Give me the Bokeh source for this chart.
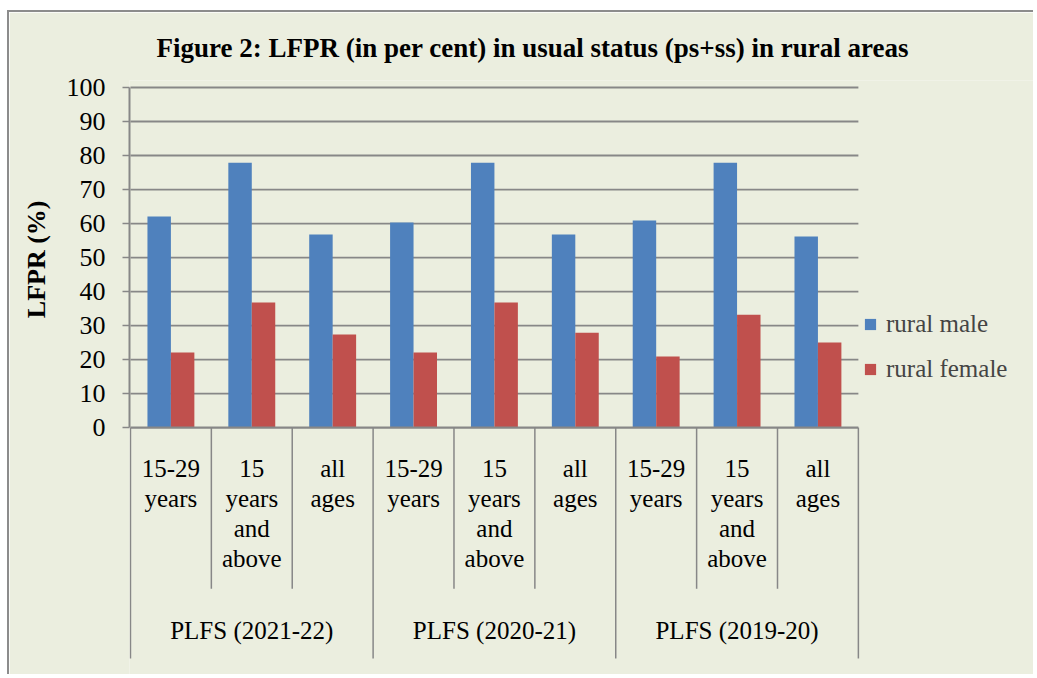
from bokeh.plotting import figure
from bokeh.models import Range1d, FixedTicker, Legend, LegendItem, Title
from bokeh.embed import file_html
from bokeh.resources import INLINE
from bokeh.core.properties import value

# ---- data ----
categories = ["15-29\nyears", "15\nyears\nand\nabove", "all\nages",
              "15-29\nyears", "15\nyears\nand\nabove", "all\nages",
              "15-29\nyears", "15\nyears\nand\nabove", "all\nages"]
groups = ["PLFS (2021-22)", "PLFS (2020-21)", "PLFS (2019-20)"]
rural_male = [62.1, 77.9, 56.8, 60.3, 77.9, 56.8, 60.9, 77.9, 56.2]
rural_female = [22.1, 36.8, 27.4, 22.1, 36.8, 27.9, 20.9, 33.2, 25.0]
y_ticks = [0, 10, 20, 30, 40, 50, 60, 70, 80, 90, 100]
title_text = "Figure 2: LFPR (in per cent) in usual status (ps+ss) in rural areas"
y_title = "LFPR (%)"
series_names = ["rural male", "rural female"]

# ---- styles ----
BG = "#EBEEDF"
BLUE = "#4F81BD"
RED = "#C0504D"
GRID = "#878787"
FONT = "Liberation Serif"

n = len(categories)
per_group = n // len(groups)
bar_w = 0.29
y_min = -73.2
inner_bottom = -47.4
group_bottom = -67.9

p = figure(width=1026, height=664, output_backend="svg", toolbar_location=None,
           x_range=Range1d(-0.012, 11.19), y_range=Range1d(y_min, 102.06),
           x_axis_location=None, min_border_left=120, min_border_top=68,
           min_border_right=0, min_border_bottom=0, margin=(10, 0, 0, 7))
p.styles = {"border-left": "2px solid #8C8C8C", "border-top": "2px solid #8C8C8C"}
p.background_fill_color = BG
p.border_fill_color = BG
p.outline_line_color = None
p.xgrid.visible = False
p.ygrid.visible = False

p.title.text = title_text
p.title.text_font = FONT
p.title.text_font_size = "27px"
p.title.text_font_style = "bold"
p.title.align = "left"
p.title.offset = 27
p.title.text_color = "black"
if "standoff" in p.title.properties():
    p.title.standoff = 36

# y axis
ax = p.yaxis[0]
ax.ticker = FixedTicker(ticks=y_ticks)
ax.bounds = (0, 100)
ax.major_label_text_font = FONT
ax.major_label_text_font_size = "26px"
ax.major_label_text_color = "black"
ax.major_label_standoff = 17
ax.major_tick_out = 7
ax.major_tick_in = 0
ax.minor_tick_out = 0
ax.minor_tick_in = 0
ax.major_tick_line_color = GRID
ax.major_tick_line_width = 1.5
ax.axis_line_color = GRID
ax.axis_line_width = 2

# y axis title, placed beside the 0-100 value span
y_title_model = Title(text=y_title, align="right", offset=120, vertical_align="top",
                      text_font=FONT, text_font_size="26px", text_font_style="bold",
                      text_color="black")
if "standoff" in y_title_model.properties():
    y_title_model.standoff = 21
p.add_layout(y_title_model, "left")

# gridlines
grid_y = [t for t in y_ticks if t > 0]
p.segment(x0=[0] * len(grid_y), x1=[n] * len(grid_y), y0=grid_y, y1=grid_y,
          line_color=GRID, line_width=1.8)

# bars
xc = [i + 0.5 for i in range(n)]
rm = p.vbar(x=[x - bar_w / 2 for x in xc], top=rural_male, width=bar_w, bottom=0,
            fill_color=BLUE, line_color=None)
rf = p.vbar(x=[x + bar_w / 2 for x in xc], top=rural_female, width=bar_w, bottom=0,
            fill_color=RED, line_color=None)

# baseline
p.segment(x0=[0], x1=[n], y0=[0], y1=[0], line_color=GRID, line_width=2.2)

# category separators
inner_x = [i for i in range(1, n) if i % per_group != 0]
group_x = [i for i in range(0, n + 1, per_group)]
p.segment(x0=inner_x, x1=inner_x, y0=[0] * len(inner_x), y1=[inner_bottom] * len(inner_x),
          line_color=GRID, line_width=1.5)
p.segment(x0=group_x, x1=group_x, y0=[0] * len(group_x), y1=[group_bottom] * len(group_x),
          line_color=GRID, line_width=1.5)

# category labels
p.text(x=xc, y=[-8.0] * n, text=categories, text_align="center", text_baseline="top",
       text_font=value(FONT), text_font_size="25px", text_line_height=1.12,
       text_color="black")
gx = [g * per_group + per_group / 2 for g in range(len(groups))]
p.text(x=gx, y=[-59.8] * len(groups), text=groups, text_align="center",
       text_baseline="middle", text_font=value(FONT), text_font_size="25px",
       text_color="black")

legend = Legend(items=[LegendItem(label=series_names[0], renderers=[rm]),
                       LegendItem(label=series_names[1], renderers=[rf])],
                location=(734, 293))
legend.glyph_width = 14
legend.glyph_height = 14
legend.label_text_font = FONT
legend.label_text_font_size = "25px"
legend.label_standoff = 9
legend.spacing = 17
legend.padding = 0
legend.margin = 0
legend.background_fill_alpha = 0
legend.border_line_alpha = 0
p.add_layout(legend)

open("out.html", "w").write(file_html(p, INLINE))
